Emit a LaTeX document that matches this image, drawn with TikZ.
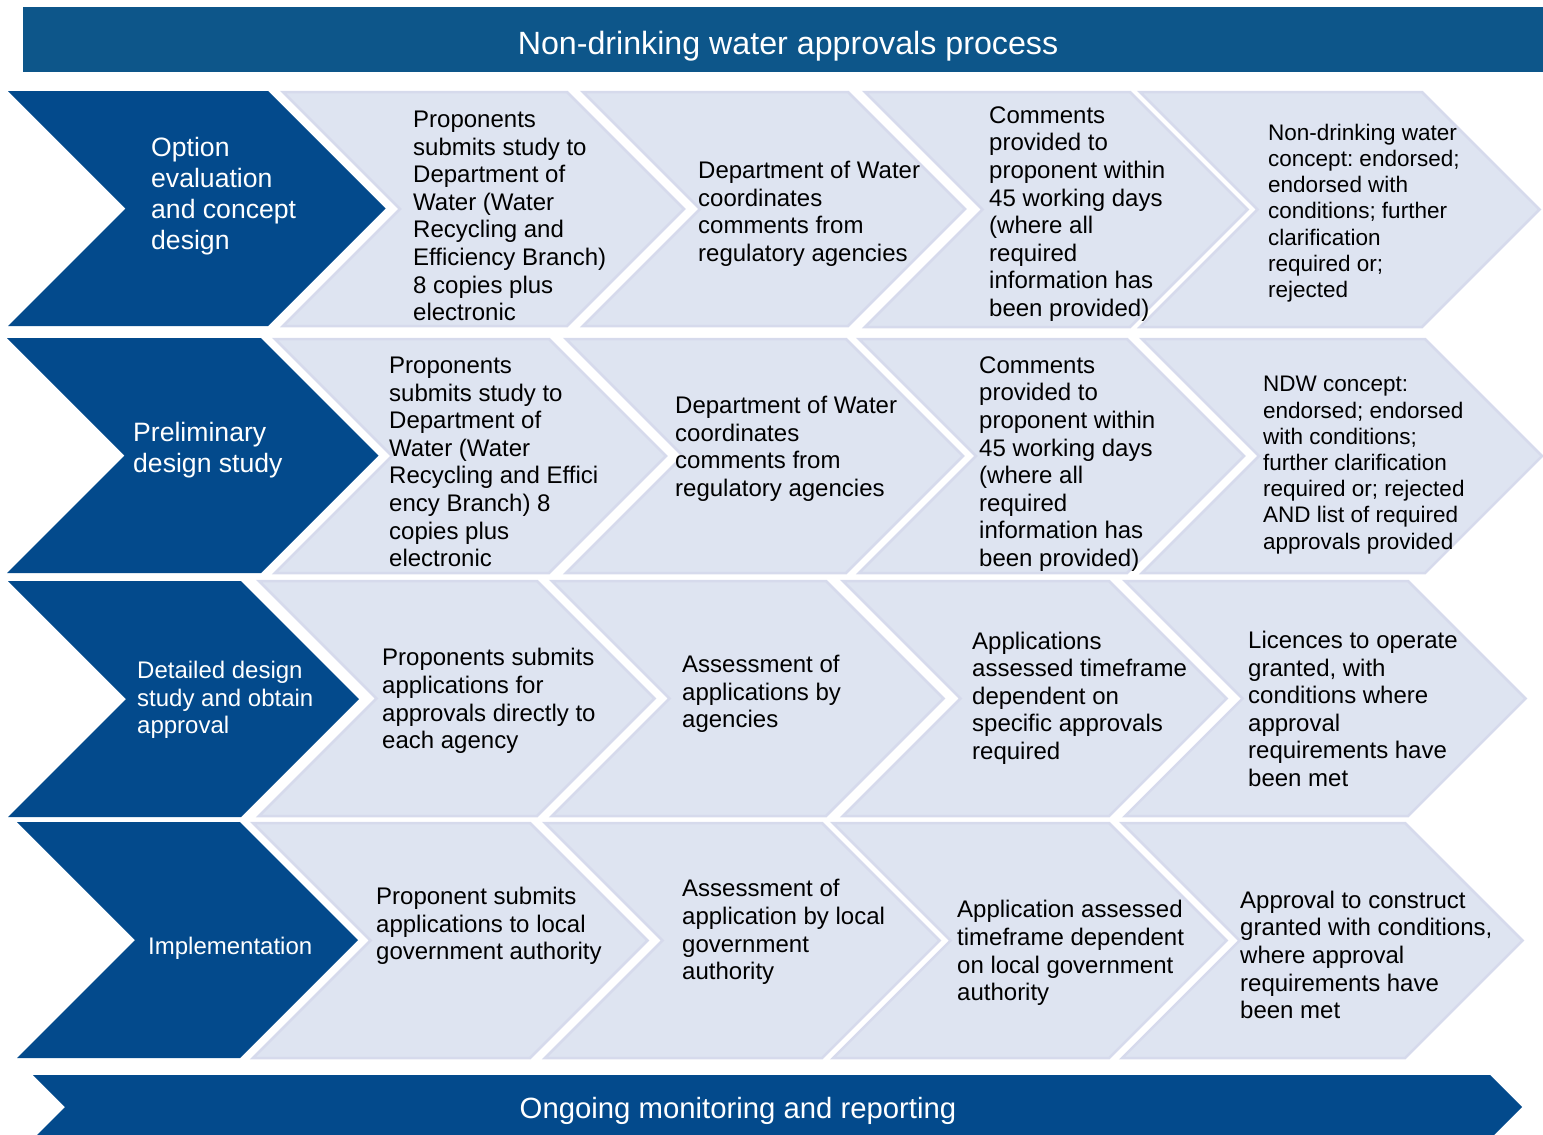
\documentclass[tikz,border=0pt]{standalone}
\usepackage{fontspec}
\setmainfont{Liberation Sans}
\frenchspacing
\definecolor{titleblue}{RGB}{13,86,138}
\definecolor{darkblue}{RGB}{3,74,140}
\definecolor{lightfill}{RGB}{222,228,241}
\definecolor{lightedge}{RGB}{214,218,236}
\newcommand\chevshape[5]{\path[#1] (#2,#4) -- (#3,#4) -- ({#3+(#5-#4)/2},{(#4+#5)/2}) -- (#3,#5) -- (#2,#5) -- ({#2+(#5-#4)/2},{(#4+#5)/2}) -- cycle;}
\tikzset{
  darkchev/.style={fill=darkblue},
  lightchev/.style={fill=lightfill, draw=lightedge, line width=2.5pt, line join=miter},
  boxtext/.style={anchor=west, align=left, inner sep=0pt, text=black, font=\fontsize{24}{27.6}\selectfont\frenchspacing},
  smalltext/.style={boxtext, font=\fontsize{22.5}{26.2}\selectfont\frenchspacing},
  phasetext/.style={anchor=west, align=left, inner sep=0pt, text=white, font=\fontsize{26.6}{31}\selectfont},
  phasetextsm/.style={phasetext, font=\fontsize{24}{27.6}\selectfont},
  bartext/.style={inner sep=0pt, text=white},
}
\begin{document}
\begin{tikzpicture}[x=1pt,y=-1pt]
\useasboundingbox (0,0) rectangle (1543,1135);
% title
\fill[titleblue] (23,7) rectangle (1543,72);
\node[bartext, font=\fontsize{32.2}{37}\selectfont] (title) at (788,46) {Non-drinking water approvals process};

% row 1
\chevshape{darkchev}{8}{268}{91}{326}
\chevshape{lightchev}{283}{567}{92}{326}
\chevshape{lightchev}{583}{848}{92}{326}
\chevshape{lightchev}{865}{1130}{92}{327}
\chevshape{lightchev}{1140}{1422}{92}{327}
% row 2
\chevshape{darkchev}{7}{261}{338}{573}
\chevshape{lightchev}{275}{549}{339}{573}
\chevshape{lightchev}{566}{846}{339}{573}
\chevshape{lightchev}{859}{1127}{339}{573}
\chevshape{lightchev}{1142}{1425}{339}{573}
% row 3
\chevshape{darkchev}{8}{241}{581}{817}
\chevshape{lightchev}{259}{537}{581}{816}
\chevshape{lightchev}{552}{826}{581}{816}
\chevshape{lightchev}{843}{1109}{581}{816}
\chevshape{lightchev}{1125}{1408}{581}{816}
% row 4
\chevshape{darkchev}{17}{240}{822}{1058}
\chevshape{lightchev}{253}{530}{823}{1058}
\chevshape{lightchev}{545}{822}{823}{1058}
\chevshape{lightchev}{833}{1109}{823}{1058}
\chevshape{lightchev}{1122}{1405}{823}{1058}
% bottom bar
\fill[darkblue] (33,1075) -- (1490,1075) -- (1522,1107) -- (1490,1139) -- (33,1139) -- (65,1107) -- cycle;
\node[bartext, font=\fontsize{29.3}{34}\selectfont] (ongoing) at (738,1111) {Ongoing monitoring and reporting};

% row 1 texts
\node[phasetext] (p1) at (151,196) {Option\\evaluation\\and concept\\design};
\node[boxtext] (r1a) at (413,216) {Proponents\\submits study to\\Department of\\Water (Water\\Recycling and\\Efficiency Branch)\\8 copies plus\\electronic};
\node[boxtext] (r1b) at (698,214) {Department of Water\\coordinates\\comments from\\regulatory agencies};
\node[boxtext] (r1c) at (989,214) {Comments\\provided to\\proponent within\\45 working days\\(where all\\required\\information has\\been provided)};
\node[smalltext] (r1d) at (1268,213) {Non-drinking water\\concept: endorsed;\\endorsed with\\conditions; further\\clarification\\required or;\\rejected};

% row 2 texts
\node[phasetext] (p2) at (133,450) {Preliminary\\design study};
\node[boxtext] (r2a) at (389,462) {Proponents\\submits study to\\Department of\\Water (Water\\Recycling and Effici\\ency Branch) 8\\copies plus\\electronic};
\node[boxtext] (r2b) at (675,449) {Department of Water\\coordinates\\comments from\\regulatory agencies};
\node[boxtext] (r2c) at (979,464) {Comments\\provided to\\proponent within\\45 working days\\(where all\\required\\information has\\been provided)};
\node[smalltext] (r2d) at (1263,465) {NDW concept:\\endorsed; endorsed\\with conditions;\\further clarification\\required or; rejected\\AND list of required\\approvals provided};

% row 3 texts
\node[phasetextsm] (p3) at (137,700) {Detailed design\\study and obtain\\approval};
\node[boxtext] (r3a) at (382,701) {Proponents submits\\applications for\\approvals directly to\\each agency};
\node[boxtext] (r3b) at (682,694) {Assessment of\\applications by\\agencies};
\node[boxtext] (r3c) at (972,698) {Applications\\assessed timeframe\\dependent on\\specific approvals\\required};
\node[boxtext] (r3d) at (1248,709) {Licences to operate\\granted, with\\conditions where\\approval\\requirements have\\been met};

% row 4 texts
\node[phasetextsm] (p4) at (148,948) {Implementation};
\node[boxtext] (r4a) at (376,926) {Proponent submits\\applications to local\\government authority};
\node[boxtext] (r4b) at (682,932) {Assessment of\\application by local\\government\\authority};
\node[boxtext] (r4c) at (957,953) {Application assessed\\timeframe dependent\\on local government\\authority};
\node[boxtext] (r4d) at (1240,955) {Approval to construct\\granted with conditions,\\where approval\\requirements have\\been met};
\end{tikzpicture}
\end{document}
